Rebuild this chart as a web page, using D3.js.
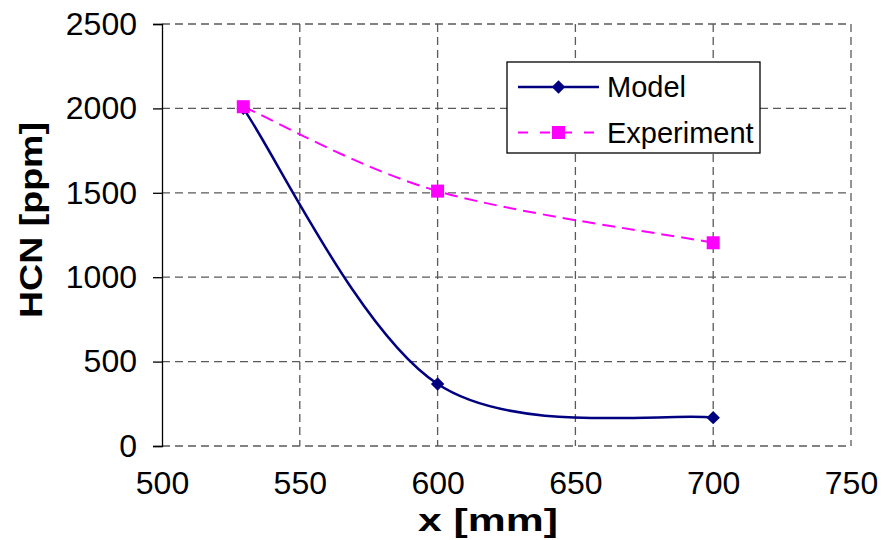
<!DOCTYPE html>
<html>
<head>
<meta charset="utf-8">
<script src="https://cdn.jsdelivr.net/npm/d3@7"></script>
<style>
	body { margin: 0; background: #fff; }
	text { font-family: "Liberation Sans", Arial, sans-serif; }
</style>
</head>
<body>
<svg id="chart" width="882" height="540"></svg>
<script>
// values
const xTicks = [500, 550, 600, 650, 700, 750];
const yTicks = [0, 500, 1000, 1500, 2000, 2500];
const modelX = [529.5, 600, 700];
const modelY = [2000, 367, 168];
const expX = [529.5, 600, 700];
const expY = [2010, 1510, 1204];
const seriesNames = ["Model", "Experiment"];

const svg = d3.select("#chart");
const plotLeft = 162, plotRight = 851, plotTop = 24, plotBottom = 446;

let x = d3.scaleLinear().domain([500, 750]).range([plotLeft, plotRight]);
let y = d3.scaleLinear().domain([0, 2500]).range([plotBottom, plotTop]);

// smoothed line the way a spreadsheet draws it (bezier, endpoints repeated)
function smoothCurve(context) {
	return {
		lineStart() { this.pts = []; },
		lineEnd() {
			let p = this.pts, n = p.length;
			if (!n) return;
			context.moveTo(p[0][0], p[0][1]);
			for (let i = 0; i < n - 1; i++) {
				let a = p[Math.max(i - 1, 0)], b = p[i], c = p[i + 1], d = p[Math.min(i + 2, n - 1)];
				context.bezierCurveTo(
					b[0] + (c[0] - a[0]) / 6, b[1] + (c[1] - a[1]) / 6,
					c[0] - (d[0] - b[0]) / 6, c[1] - (d[1] - b[1]) / 6,
					c[0], c[1]);
			}
		},
		point(px, py) { this.pts.push([px, py]); },
		areaStart() {},
		areaEnd() {}
	};
}

// grid
let grid = svg.append("g").attr("stroke", "#5a5a5a").attr("stroke-width", 1.3).attr("stroke-dasharray", "8,5");
grid.selectAll(".gx").data(xTicks.slice(1)).enter().append("line")
	.attr("x1", d => x(d)).attr("x2", d => x(d)).attr("y1", plotTop).attr("y2", plotBottom);
grid.selectAll(".gy").data(yTicks).enter().append("line")
	.attr("x1", plotLeft).attr("x2", plotRight).attr("y1", d => y(d)).attr("y2", d => y(d));

// y axis
let yAxis = d3.axisLeft(y).tickValues(yTicks).tickSize(9).tickPadding(16).tickFormat(d3.format("d"));
let ya = svg.append("g").attr("transform", "translate(" + plotLeft + ",0)").call(yAxis);
ya.select(".domain").attr("stroke", "#000").attr("stroke-width", 1.3);
ya.selectAll(".tick line").attr("stroke", "#000").attr("stroke-width", 1.3);
ya.selectAll(".tick text").attr("font-size", 32).attr("fill", "#000")
	.attr("font-family", "Liberation Sans, Arial, sans-serif");

// x axis labels (no axis line)
let xAxis = d3.axisBottom(x).tickValues(xTicks).tickSize(0).tickPadding(25).tickFormat(d3.format("d"));
let xa = svg.append("g").attr("transform", "translate(0," + plotBottom + ")").call(xAxis);
xa.select(".domain").remove();
xa.selectAll(".tick text").attr("font-size", 32).attr("fill", "#000")
	.attr("font-family", "Liberation Sans, Arial, sans-serif");

// titles
svg.append("text").attr("x", 488).attr("y", 531).attr("text-anchor", "middle")
	.attr("font-size", 32).attr("font-weight", "bold")
	.attr("textLength", 140).attr("lengthAdjust", "spacingAndGlyphs").text("x [mm]");
svg.append("text").attr("transform", "translate(42,220) rotate(-90)").attr("text-anchor", "middle")
	.attr("font-size", 32).attr("font-weight", "bold")
	.attr("textLength", 196).attr("lengthAdjust", "spacingAndGlyphs").text("HCN [ppm]");

// lines
let line = d3.line().x(d => x(d[0])).y(d => y(d[1])).curve(smoothCurve);
let model = modelX.map((v, i) => [v, modelY[i]]);
let exp = expX.map((v, i) => [v, expY[i]]);

svg.append("path").attr("d", line(exp)).attr("fill", "none").attr("stroke", "#ff00ff")
	.attr("stroke-width", 2).attr("stroke-dasharray", "13,7");
svg.append("path").attr("d", line(model)).attr("fill", "none").attr("stroke", "#000080")
	.attr("stroke-width", 2.5);

let diamond = d3.symbol().type(d3.symbolSquare).size(90);
svg.selectAll(".dm").data(model).enter().append("path").attr("d", diamond)
	.attr("transform", d => "translate(" + x(d[0]) + "," + y(d[1]) + ") rotate(45)").attr("fill", "#000080");
svg.selectAll(".sq").data(exp).enter().append("rect")
	.attr("x", d => x(d[0]) - 6.5).attr("y", d => y(d[1]) - 6.5).attr("width", 13).attr("height", 13).attr("fill", "#ff00ff");

// legend
let lg = svg.append("g");
lg.append("rect").attr("x", 507).attr("y", 62).attr("width", 253).attr("height", 91)
	.attr("fill", "#fff").attr("stroke", "#000").attr("stroke-width", 1.3);
lg.append("line").attr("x1", 518).attr("x2", 599).attr("y1", 87).attr("y2", 87)
	.attr("stroke", "#000080").attr("stroke-width", 2.5);
lg.append("path").attr("d", diamond).attr("transform", "translate(558.5,87) rotate(45)").attr("fill", "#000080");
lg.append("line").attr("x1", 518).attr("x2", 599).attr("y1", 132.5).attr("y2", 132.5)
	.attr("stroke", "#ff00ff").attr("stroke-width", 2).attr("stroke-dasharray", "10,12");
lg.append("rect").attr("x", 552).attr("y", 126).attr("width", 13).attr("height", 13).attr("fill", "#ff00ff");
lg.selectAll(".lt").data(seriesNames).enter().append("text")
	.attr("x", 607).attr("y", (d, i) => 87 + i * 45.5).attr("dy", "0.36em")
	.attr("font-size", 29).text(d => d);
</script>
</body>
</html>
